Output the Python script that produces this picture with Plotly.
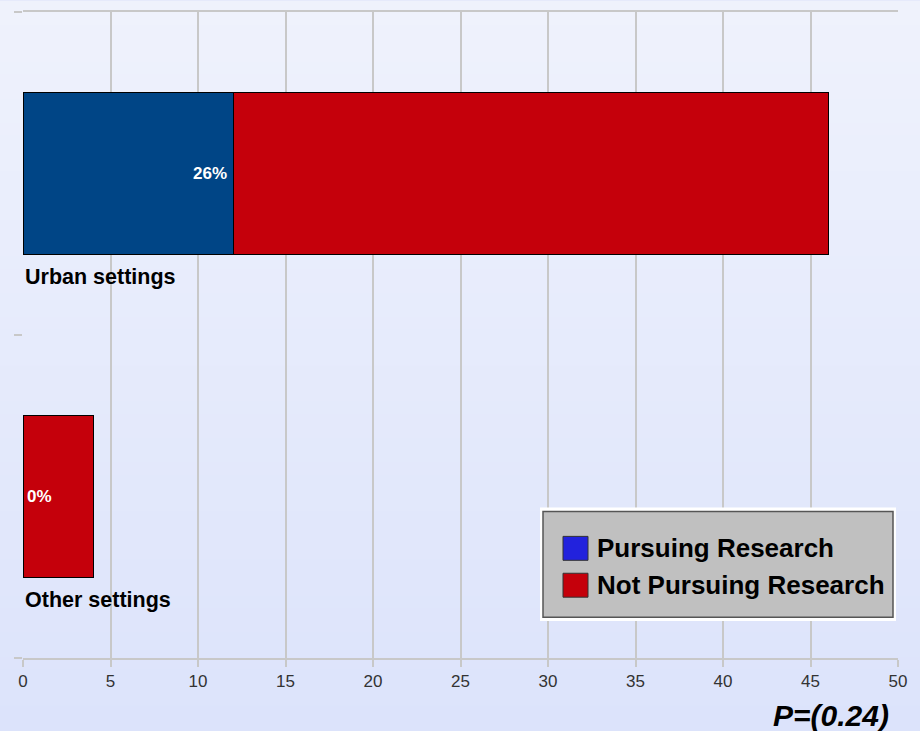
import plotly.graph_objects as go

# данные
categories = ["Urban settings", "Other settings"]
pursuing = [12, 0]
not_pursuing = [34, 4]
pct_labels = ["26%", "0%"]
series_names = ["Pursuing Research", "Not Pursuing Research"]
p_value = "P=(0.24)"

BAR_COLORS = ["#004586", "#C5000B"]
LEGEND_COLORS = ["#2222DD", "#C5000B"]
GRID = "#C8C8C8"
FONT = "Liberation Sans, Arial, sans-serif"

W, H = 920, 731
L, R, T, B = 23, 22, 10, 73
PW, PH = W - L - R, H - T - B


def px(x):
    return (x - L) / PW


def py(y):
    return (H - B - y) / PH


# категории сверху вниз
ypos = list(range(len(categories)))[::-1]

fig = go.Figure()
for vals, color, name in ((pursuing, BAR_COLORS[0], series_names[0]),
                          (not_pursuing, BAR_COLORS[1], series_names[1])):
    fig.add_trace(go.Bar(
        x=vals, y=ypos, orientation="h", name=name, showlegend=False,
        marker=dict(color=color, line=dict(color="#000000", width=1)),
        width=0.5,
    ))

shapes = []
# фон-градиент
n = 60
top_c, bot_c = (239, 242, 252), (220, 227, 251)
for i in range(n):
    f = i / (n - 1)
    c = tuple(round(top_c[k] + (bot_c[k] - top_c[k]) * f) for k in range(3))
    shapes.append(dict(type="rect", xref="paper", yref="paper", layer="below",
                       x0=px(0), x1=px(W), y0=py(i * H / n - 1), y1=py((i + 1) * H / n + 1),
                       fillcolor="rgb(%d,%d,%d)" % c, line=dict(width=0)))

annotations = []
for yv, cat, pv, lab in zip(ypos, categories, pursuing, pct_labels):
    annotations.append(dict(
        x=pv, y=yv, text=f"<b>{lab}</b>", showarrow=False,
        xanchor="right" if pv > 0 else "left", xshift=-4 if pv > 0 else 2,
        font=dict(family=FONT, size=17, color="#FFFFFF"),
    ))
    annotations.append(dict(
        x=0, y=yv - 0.32, text=f"<b>{cat}</b>", showarrow=False,
        xanchor="left", yanchor="middle", xshift=0,
        font=dict(family=FONT, size=21.5, color="#000000"),
    ))

# легенда вручную
shapes.append(dict(type="rect", xref="paper", yref="paper", x0=px(540), x1=px(896),
                   y0=py(621), y1=py(507), fillcolor="#FFFFFF", line=dict(width=0)))
shapes.append(dict(type="rect", xref="paper", yref="paper", x0=px(543), x1=px(893),
                   y0=py(617), y1=py(511), fillcolor="#C0C0C0",
                   line=dict(color="#555555", width=1.5)))
for i, (name, col) in enumerate(zip(series_names, LEGEND_COLORS)):
    yc = 548 + i * 37
    shapes.append(dict(type="rect", xref="paper", yref="paper", x0=px(563), x1=px(588),
                       y0=py(yc + 12), y1=py(yc - 12), fillcolor=col,
                       line=dict(color="#333333", width=1)))
    annotations.append(dict(
        xref="paper", yref="paper", x=px(595), y=py(yc), text=f"<b>{name}</b>",
        showarrow=False, xanchor="left", yanchor="middle",
        font=dict(family=FONT, size=26, color="#000000"),
    ))

annotations.append(dict(
    xref="paper", yref="paper", x=px(891), y=py(716), text=f"<b><i>{p_value}</i></b>",
    showarrow=False, xanchor="right", yanchor="middle",
    font=dict(family=FONT, size=30, color="#000000"),
))

fig.update_layout(
    width=W, height=H, margin=dict(l=L, r=R, t=T, b=B),
    paper_bgcolor="#E6EAFB", plot_bgcolor="rgba(0,0,0,0)",
    barmode="stack", showlegend=False,
    shapes=shapes, annotations=annotations,
    font=dict(family=FONT),
)
fig.update_xaxes(
    range=[0, 50], dtick=5, tick0=0, showgrid=True, gridcolor=GRID, gridwidth=2,
    zeroline=False, showline=True, linecolor=GRID, linewidth=2, mirror=True,
    ticks="outside", ticklen=7, tickwidth=2, tickcolor=GRID,
    tickfont=dict(family=FONT, size=17, color="#333333"),
)
fig.update_yaxes(
    range=[-0.5, len(categories) - 0.5], tickvals=[-0.5, 0.5, 1.5],
    showticklabels=False, showgrid=False, zeroline=False, showline=False,
    ticks="outside", ticklen=8, tickwidth=2, tickcolor=GRID,
)

fig.write_html("out.html", config={"displayModeBar": False},
               post_script="document.body.style.margin='0';")
